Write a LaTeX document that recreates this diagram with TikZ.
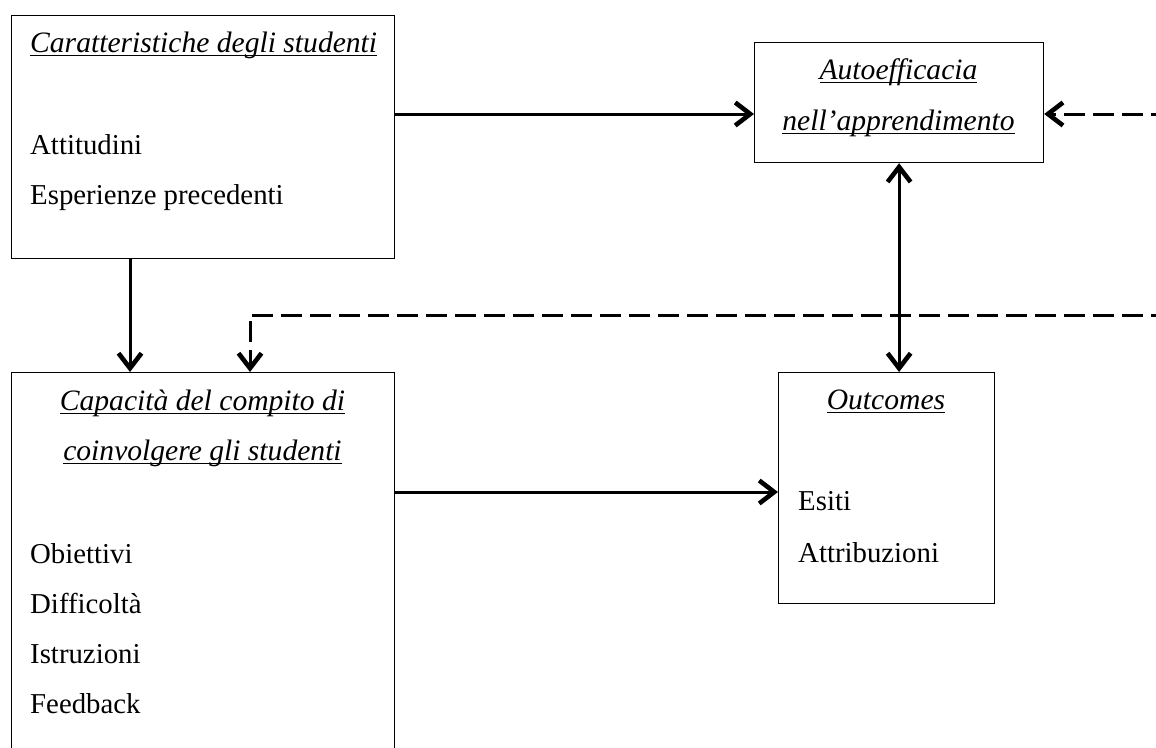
\documentclass[tikz,border=0pt]{standalone}
\usepackage{fontspec}
\setmainfont{Liberation Serif}
\usetikzlibrary{arrows.meta}

% underline at a fixed depth below the baseline, crossing descenders
\newcommand\ulword[1]{\setbox0=\hbox{#1}\rlap{\rule[-3.6pt]{\wd0}{1.1pt}}\box0}

\tikzset{
  headbarb/.tip={Straight Barb[length=15pt, width=23pt, line width=4.6pt]},
  box/.style={draw, line width=1.2pt, inner sep=0pt, anchor=north west},
  txt/.style={inner sep=0pt, font=\fontsize{28.8}{30}\selectfont},
  ttl/.style={txt, font=\fontsize{29.6}{30}\selectfont\itshape},
  arr/.style={line width=3pt, -headbarb},
  arrboth/.style={line width=3pt, headbarb-headbarb},
  darr/.style={arr, dash pattern=on 21pt off 8pt}
}

\begin{document}
\begin{tikzpicture}[x=1pt, y=-1pt]
\useasboundingbox (0,0) rectangle (1156,747);
\clip (0,0) rectangle (1156,747);

% frames
\node[box, minimum width=383pt, minimum height=243pt] (b1) at (11,15) {};
\node[box, minimum width=289pt, minimum height=120pt] (b2) at (754,42) {};
\node[box, minimum width=383pt, minimum height=430pt] (b3) at (11,372) {};
\node[box, minimum width=216pt, minimum height=231pt] (b4) at (778,372) {};

% student characteristics
\node[ttl, anchor=base west] (t1) at (30,52) {\ulword{Caratteristiche degli studenti}};
\node[txt, anchor=base west] (t1a) at (30,154) {Attitudini};
\node[txt, anchor=base west] (t1b) at (30,204) {Esperienze precedenti};

% self-efficacy
\node[ttl, anchor=base] (t2) at (898.5,79) {\ulword{Autoefficacia}};
\node[ttl, anchor=base] (t2b) at (898.5,130) {\ulword{nell’apprendimento}};

% task
\node[ttl, anchor=base] (t3) at (202.5,410) {\ulword{Capacità del compito di}};
\node[ttl, anchor=base] (t3b) at (202.5,460) {\ulword{coinvolgere gli studenti}};
\node[txt, anchor=base west] (t3c) at (30,563) {Obiettivi};
\node[txt, anchor=base west] (t3d) at (30,613) {Difficoltà};
\node[txt, anchor=base west] (t3e) at (30,663) {Istruzioni};
\node[txt, anchor=base west] (t3f) at (30,713) {Feedback};

% outcomes
\node[ttl, anchor=base] (t4) at (886,409) {\ulword{Outcomes}};
\node[txt, anchor=base west] (t4a) at (798,510) {Esiti};
\node[txt, anchor=base west] (t4b) at (798,562) {Attribuzioni};

% connector levels
\coordinate (ya) at (0,114);
\coordinate (yb) at (0,492);
\coordinate (xa) at (130,0);
\coordinate (xb) at (250,0);
\coordinate (ra) at (1172,114);
\coordinate (rb) at (1172,315);

% connectors
\draw[arr] (b1.east |- ya) -- (b2.west |- ya);
\draw[darr] (ra) -- (b2.east |- ra);
\draw[arr] (b1.south -| xa) -- (b3.north -| xa);
\draw[arrboth] (b2.south) -- (b2.south |- b4.north);
\draw[arr] (b3.east |- yb) -- (b4.west |- yb);
\draw[darr] (rb) -| (b3.north -| xb);
\end{tikzpicture}
\end{document}
